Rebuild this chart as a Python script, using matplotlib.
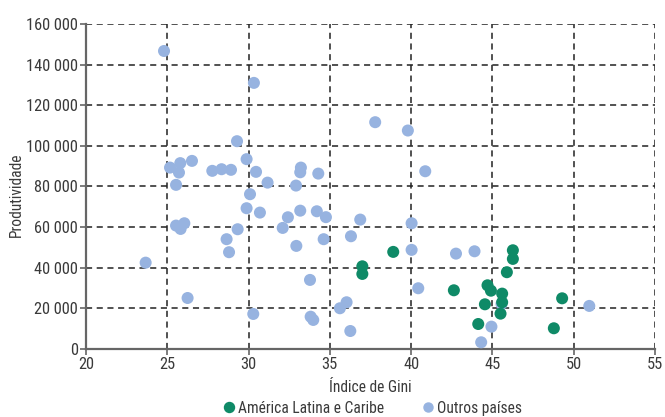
import os
import matplotlib.pyplot as plt
from matplotlib import font_manager as fm
from matplotlib.ticker import FuncFormatter
from matplotlib.lines import Line2D

# América Latina e Caribe
gini_al = [38.9, 37.0, 37.0, 46.26, 46.26, 45.89, 44.7, 44.91, 42.63, 45.6,
           49.29, 44.54, 45.6, 45.5, 44.13, 48.78]
prod_al = [47800, 40700, 36950, 48600, 44350, 37800, 31350, 28700, 28900, 27250,
           24950, 22000, 23000, 17400, 12300, 10200]

# Outros países
gini_outros = [24.8, 30.33, 29.29, 25.17, 25.8, 25.72, 26.52, 25.54, 27.77, 28.34,
               28.92, 29.88, 30.46, 30.09, 31.17, 32.92, 33.22, 33.18, 34.29, 37.79,
               39.8, 40.87, 29.88, 30.7, 25.54, 26.05, 25.82, 29.33, 28.65, 28.8,
               23.67, 26.25, 30.29, 32.1, 32.42, 33.18, 34.2, 34.76, 32.94, 34.62,
               33.78, 33.82, 33.98, 36.87, 36.3, 36.03, 35.62, 36.26, 40.03, 40.03,
               42.76, 43.9, 40.44, 45.56, 50.96, 44.94, 44.31]
prod_outros = [146700, 131000, 102300, 89300, 91500, 86850, 92600, 80800, 87700, 88500,
               88200, 93450, 87200, 76200, 81900, 80450, 89300, 87000, 86350, 111650,
               107550, 87500, 69300, 67150, 60750, 61900, 59100, 58950, 54050, 47650,
               42500, 25100, 17250, 59600, 64850, 68100, 67800, 64900, 50750, 54050,
               34000, 15900, 14300, 63700, 55500, 23000, 20050, 8850, 61900, 48800,
               46950, 48100, 29900, 22150, 21200, 11000, 3300]

x_ticks = [20, 25, 30, 35, 40, 45, 50, 55]
y_ticks = [0, 20000, 40000, 60000, 80000, 100000, 120000, 140000, 160000]

azul = "#97b3e0"
verde = "#0f8a67"
cor_texto = "#3a3a3a"


def fonte_estreita():
    # procura uma fonte condensada instalada, senão None
    arquivos = [f.fname for f in fm.fontManager.ttflist]
    for chave in ["liberationsansnarrow-regular", "robotocondensed-regular",
                  "notosans-condensed.", "opensans-condensed", "dejavusanscondensed."]:
        for a in arquivos:
            if chave in os.path.basename(a).lower():
                return a
    for a in arquivos:
        n = os.path.basename(a).lower()
        if ("condensed" in n or "narrow" in n) and not any(
                w in n for w in ["bold", "italic", "oblique", "light", "thin", "black", "medium"]):
            return a
    return None


caminho = fonte_estreita()
if caminho is None:
    fp_tick = fm.FontProperties(family="DejaVu Sans", size=10.5)
    fp_lab = fm.FontProperties(family="DejaVu Sans", size=10)
elif "narrow" in caminho.lower():
    fp_tick = fm.FontProperties(fname=caminho, size=12.5)
    fp_lab = fm.FontProperties(fname=caminho, size=12)
else:
    fp_tick = fm.FontProperties(fname=caminho, size=11.8)
    fp_lab = fm.FontProperties(fname=caminho, size=11.2)

fig = plt.figure(figsize=(6.65, 4.17), dpi=100)
ax = fig.add_axes([0.1293, 0.1631, 0.8556, 0.7794])

ax.set_xlim(20, 55)
ax.set_ylim(0, 160000)
ax.set_xticks(x_ticks)
ax.set_yticks(y_ticks)
ax.yaxis.set_major_formatter(FuncFormatter(lambda v, p: f"{int(v):,}".replace(",", " ")))

ax.grid(True, color="#222222", linestyle=(0, (4, 3)), linewidth=1.1)
ax.set_axisbelow(True)

for s in ["top", "right"]:
    ax.spines[s].set_visible(False)
for s in ["left", "bottom"]:
    ax.spines[s].set_color("#666666")
    ax.spines[s].set_linewidth(1.6)

ax.tick_params(axis="both", colors="#666666", labelcolor=cor_texto,
               length=4, width=1.2, pad=2)
for lbl in ax.get_xticklabels() + ax.get_yticklabels():
    lbl.set_fontproperties(fp_tick)

ax.scatter(gini_outros, prod_outros, s=75, color=azul, edgecolors="none", zorder=3)
ax.scatter(gini_al, prod_al, s=75, color=verde, edgecolors="none", zorder=3)

ax.set_xlabel("Índice de Gini", fontproperties=fp_lab, color=cor_texto)
ax.set_ylabel("Produtividade", fontproperties=fp_lab, color=cor_texto)
ax.xaxis.set_label_coords(0.5, -0.094)
ax.yaxis.set_label_coords(-0.109, 0.474)

handles = [
    Line2D([], [], marker="o", linestyle="none", markersize=7.2, color=verde),
    Line2D([], [], marker="o", linestyle="none", markersize=6.5, color=azul),
]
fig.legend(handles, ["América Latina e Caribe", "Outros países"], loc="center",
           bbox_to_anchor=(0.560, 0.021), ncol=2, frameon=False, prop=fp_lab,
           handlelength=0.8, handletextpad=0.2, columnspacing=2.4,
           labelcolor=cor_texto, borderpad=0, borderaxespad=0)

fig.savefig("out.png", dpi=100)
